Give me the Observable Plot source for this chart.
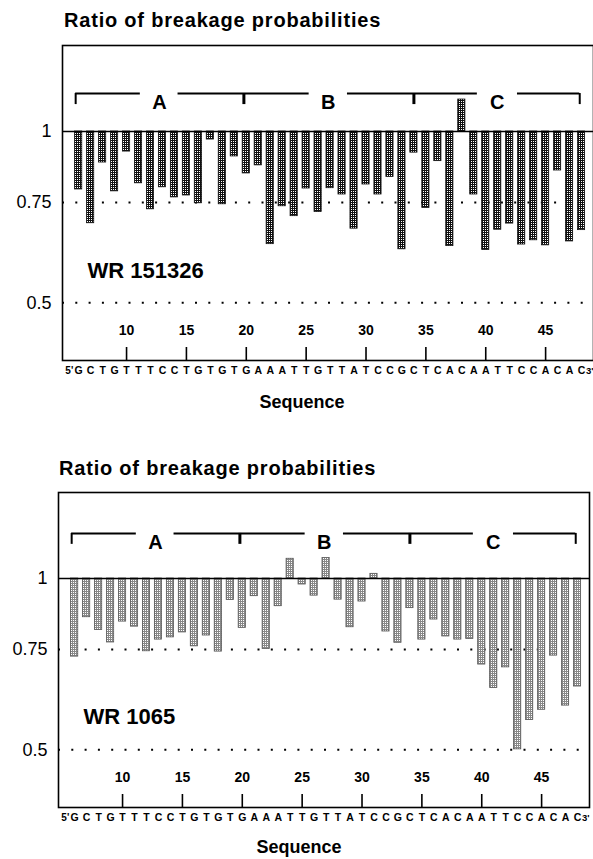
<!DOCTYPE html>
<html><head><meta charset="utf-8">
<script src="https://cdn.jsdelivr.net/npm/d3@7"></script>
<script src="https://cdn.jsdelivr.net/npm/@observablehq/plot@0.6"></script>
<style>
body{margin:0;background:#fff;font-family:"Liberation Sans",Arial,sans-serif;}
#root{position:relative;width:593px;height:859px;overflow:hidden;background:#fff;}
.title{position:absolute;font-weight:bold;font-size:20px;line-height:20px;letter-spacing:0.8px;white-space:nowrap;}
.xlab{position:absolute;font-weight:bold;font-size:18px;line-height:18px;white-space:nowrap;transform:translateX(-50%);}
.panel{position:absolute;left:0;}
</style></head><body><div id="root"></div>
<script>
// nucleotide positions (one bar each)
const positions = [6,7,8,9,10,11,12,13,14,15,16,17,18,19,20,21,22,23,24,25,26,27,28,29,30,31,32,33,34,35,36,37,38,39,40,41,42,43,44,45,46,47,48];
const sequence = ["G","C","T","G","T","T","T","C","C","T","G","T","G","T","G","A","A","A","T","T","G","T","T","A","T","C","C","G","C","T","C","A","C","A","A","T","T","C","C","A","C","A","C"];
const ratioWR151326 = [0.791,0.690,0.882,0.785,0.922,0.811,0.730,0.798,0.766,0.772,0.748,0.968,0.745,0.904,0.844,0.872,0.634,0.739,0.710,
  0.794,0.722,0.795,0.775,0.675,0.807,0.775,0.832,0.621,0.918,0.734,0.887,0.629,1.138,0.775,0.619,0.672,0.689,0.633,0.644,0.631,0.854,0.641,0.671];
const ratioWR1065 = [0.729,0.855,0.812,0.772,0.840,0.823,0.745,0.781,0.788,0.804,0.760,0.794,0.744,0.917,0.819,0.931,0.752,0.894,1.083,
  0.976,0.933,1.086,0.918,0.821,0.911,1.019,0.807,0.771,0.887,0.781,0.847,0.791,0.781,0.783,0.706,0.642,0.698,0.501,0.564,0.588,0.732,0.598,0.646];
const xTicks = [10,15,20,25,30,35,40,45];
const yTicks = [0.5,0.75,1];
const yTickLabels = ["0.5","0.75","1"];
const dottedLevels = [0.75,0.5];
// regions A, B, C (bracket segments, letter positions, tick positions in nucleotide units)
const bracketSegments = [[5.75,11.15],[14.3,25.25],[28.45,39.3],[42.65,47.85]];
const bracketLetters = ["A","B","C"];
const bracketLetterPos = [12.75,26.85,40.95];
const bracketEndPos = [5.75,47.85];
const bracketJoinPos = [19.8,34.0];
const panelTitle = "Ratio of breakage probabilities";
const xTitle = "Sequence";

const root = document.getElementById("root");
const font = "Liberation Sans, Arial, sans-serif";

function makePanel(cfg) {
  const data = positions.map((p,i)=>({pos:p, v:cfg.values[i]}));
  const seq = positions.map((p,i)=>({pos:p, base:sequence[i]}));
  const letters = bracketLetters.map((t,i)=>({t, x:bracketLetterPos[i]}));
  const svg = Plot.plot({
    width: 593, height: 420,
    marginTop: 45, marginBottom: 60, marginLeft: cfg.ml, marginRight: cfg.mr,
    x: {domain: [4.65, 49.0], label: null},
    y: {type: "log", domain: [0.396, 1.416], label: null},
    style: {fontFamily: font, color: "black", background: "transparent", overflow: "visible"},
    marks: [
      Plot.ruleY(dottedLevels, {stroke: "black", strokeWidth: 2, strokeDasharray: "2,11.3"}),
      Plot.rect(data, {x1: d=>d.pos-0.3, x2: d=>d.pos+0.3, y1: 1, y2: "v", fill: `url(#${cfg.pid})`, stroke: cfg.stroke, strokeWidth: 0.8}),
      Plot.ruleY([1], {stroke: "black", strokeWidth: 1.5}),
      Plot.frame({stroke: "black", strokeWidth: 1.6}),
      Plot.axisY({ticks: yTicks, label: null, tickSize: 0, tickPadding: 11, fontSize: 18, tickFormat: d => yTickLabels[yTicks.indexOf(d)]}),
      Plot.axisX({ticks: xTicks, label: null, tickSize: 13, dy: -13, tickFormat: () => "", strokeWidth: 1.6}),
      Plot.axisX({ticks: xTicks, label: null, tickSize: 0, tickPadding: 3, dy: -38, fontSize: 14, fontWeight: "bold"}),
      Plot.text(seq, {x: "pos", text: "base", frameAnchor: "bottom", dy: 13, fontSize: 10.5, fontWeight: "bold"}),
      Plot.text(["5'"], {x: 5.55, text: d=>d, textAnchor: "end", frameAnchor: "bottom", dy: 13, fontSize: 10, fontWeight: "bold"}),
      Plot.text(["3'"], {x: 48.38, text: d=>d, textAnchor: "start", frameAnchor: "bottom", dy: 13, fontSize: 9.5, fontWeight: "bold"}),
      Plot.ruleY(bracketSegments, {y: cfg.bracket, x1: d=>d[0], x2: d=>d[1], stroke: "black", strokeWidth: 2}),
      Plot.ruleX(bracketEndPos, {x: d=>d, y1: cfg.bracket, y2: cfg.bracketTick, stroke: "black", strokeWidth: 2}),
      Plot.ruleX(bracketJoinPos, {x: d=>d, y1: cfg.bracket, y2: cfg.bracketTick, stroke: "black", strokeWidth: 3}),
      Plot.text(letters, {x: "x", y: cfg.bracket, text: "t", lineAnchor: "top", dy: 1, fontSize: 20, fontWeight: "bold"}),
      Plot.text([cfg.label], {x: 6.74, y: cfg.labelY, text: d=>d, textAnchor: "start", lineAnchor: "bottom", fontSize: 22, fontWeight: "bold"})
    ]
  });
  const defs = d3.select(svg).insert("defs", ":first-child");
  const pat = defs.append("pattern").attr("id", cfg.pid).attr("patternUnits", "userSpaceOnUse").attr("width", 2).attr("height", 2);
  pat.append("rect").attr("width", 2).attr("height", 2).attr("fill", cfg.dark);
  pat.append("rect").attr("x", 1).attr("y", 1).attr("width", 1).attr("height", 1).attr("fill", "#fff");
  svg.classList.add("panel");
  svg.style.top = cfg.top + "px";
  root.appendChild(svg);

  const t = document.createElement("div");
  t.className = "title"; t.textContent = panelTitle;
  t.style.left = cfg.titleX + "px"; t.style.top = cfg.titleTop + "px";
  root.appendChild(t);
  const xl = document.createElement("div");
  xl.className = "xlab"; xl.textContent = xTitle;
  xl.style.left = cfg.xlabX + "px"; xl.style.top = cfg.xlabTop + "px";
  root.appendChild(xl);
}

makePanel({values: ratioWR151326, label: "WR 151326", labelY: 0.552, top: 0, ml: 62, mr: 0,
  pid: "grid1", dark: "#111", stroke: "#111", bracket: 1.166, bracketTick: 1.115,
  titleX: 64, titleTop: 10, xlabX: 302, xlabTop: 393});
makePanel({values: ratioWR1065, label: "WR 1065", labelY: 0.556, top: 447, ml: 58, mr: 4,
  pid: "grid2", dark: "#888", stroke: "#555", bracket: 1.20, bracketTick: 1.148,
  titleX: 59, titleTop: 458, xlabX: 299, xlabTop: 838});
</script></body></html>
